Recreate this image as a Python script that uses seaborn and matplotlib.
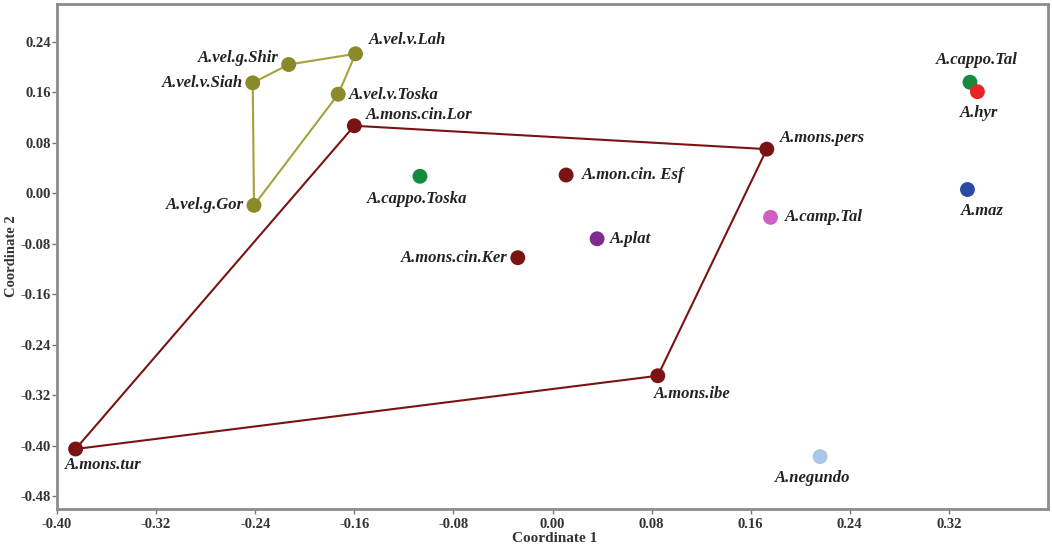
import matplotlib
matplotlib.use("Agg")
import matplotlib.pyplot as plt
import seaborn as sns
import pandas as pd

# PCoA coordinates of the Acer accessions
names = ["A.vel.v.Lah", "A.vel.g.Shir", "A.vel.v.Siah", "A.vel.v.Toska", "A.vel.g.Gor",
         "A.mons.cin.Lor", "A.mons.pers", "A.mons.ibe", "A.mons.tur",
         "A.cappo.Toska", "A.mon.cin. Esf", "A.plat", "A.mons.cin.Ker",
         "A.camp.Tal", "A.cappo.Tal", "A.hyr", "A.maz", "A.negundo"]
coord1 = [-0.159, -0.213, -0.242, -0.173, -0.241,
          -0.160, 0.173, 0.085, -0.385,
          -0.107, 0.011, 0.036, -0.028,
          0.176, 0.337, 0.343, 0.335, 0.216]
coord2 = [0.221, 0.204, 0.175, 0.157, -0.019,
          0.107, 0.070, -0.289, -0.405,
          0.027, 0.029, -0.072, -0.102,
          -0.038, 0.176, 0.161, 0.006, -0.417]
group = ["vel", "vel", "vel", "vel", "vel",
         "mons", "mons", "mons", "mons",
         "cappo", "mons", "plat", "mons",
         "camp", "cappo", "hyr", "maz", "negundo"]

# convex hull outlines (closed) for the two clustered groups
hull_vel = ["A.vel.v.Siah", "A.vel.g.Shir", "A.vel.v.Lah", "A.vel.v.Toska", "A.vel.g.Gor", "A.vel.v.Siah"]
hull_mons = ["A.mons.cin.Lor", "A.mons.pers", "A.mons.ibe", "A.mons.tur", "A.mons.cin.Lor"]

palette = {"vel": "#8a8a2a", "mons": "#7a1414", "cappo": "#178a3e", "plat": "#7d2b8c",
           "camp": "#cf5fc0", "hyr": "#e82424", "maz": "#2b4aa6", "negundo": "#a9c8e8"}

# label placement: (dx, dy) in pixels, horizontal alignment
label_pos = {
    "A.vel.v.Lah": (13, 14, "left"), "A.vel.g.Shir": (-10, 7, "right"),
    "A.vel.v.Siah": (-10, 0, "right"), "A.vel.v.Toska": (11, -1, "left"),
    "A.vel.g.Gor": (-10, 0, "right"), "A.mons.cin.Lor": (12, 11, "left"),
    "A.mons.pers": (13, 11, "left"), "A.mons.ibe": (34, -18, "center"),
    "A.mons.tur": (28, -16, "center"), "A.cappo.Toska": (-3, -23, "center"),
    "A.mon.cin. Esf": (16, 0, "left"), "A.plat": (13, 0, "left"),
    "A.mons.cin.Ker": (-10, 0, "right"), "A.camp.Tal": (14, 0, "left"),
    "A.cappo.Tal": (7, 22, "center"), "A.hyr": (2, -21, "center"),
    "A.maz": (15, -21, "center"), "A.negundo": (-7, -21, "center"),
}

df = pd.DataFrame({"name": names, "Coordinate 1": coord1, "Coordinate 2": coord2, "group": group})
idx = df.set_index("name")

sns.set_style("white")
plt.rcParams["font.family"] = ["Liberation Serif", "DejaVu Serif"]

fig = plt.figure(figsize=(10.52, 5.46), dpi=100)
ax = fig.add_axes([0.0542, 0.0678, 0.942, 0.925])

for hull, col in [(hull_vel, "#a3a33c"), (hull_mons, "#7a1414")]:
    ax.plot(idx.loc[hull, "Coordinate 1"], idx.loc[hull, "Coordinate 2"],
            color=col, lw=1.5, zorder=2)

sns.scatterplot(data=df, x="Coordinate 1", y="Coordinate 2", hue="group",
                palette=palette, s=115, edgecolor="none", legend=False, ax=ax, zorder=3)

for n, x, y in zip(names, coord1, coord2):
    dx, dy, ha = label_pos[n]
    ax.annotate(n, (x, y), xytext=(dx, dy), textcoords="offset pixels",
                ha=ha, va="center", fontsize=12, fontweight="bold", fontstyle="italic",
                color="#222222", zorder=4)

ax.set_xlim(-0.40, 0.40)
ax.set_ylim(-0.50, 0.30)
xt = [-0.40, -0.32, -0.24, -0.16, -0.08, 0.00, 0.08, 0.16, 0.24, 0.32]
yt = [0.24, 0.16, 0.08, 0.00, -0.08, -0.16, -0.24, -0.32, -0.40, -0.48]
ax.set_xticks(xt)
ax.set_xticklabels([f"{v:.2f}" for v in xt])
ax.set_yticks(yt)
ax.set_yticklabels([f"{v:.2f}" for v in yt])
ax.tick_params(axis="both", direction="out", length=3.6, width=1, color="#777777",
               labelsize=10.5, labelcolor="#333333", bottom=True, left=True)
ax.tick_params(axis="x", pad=3)
ax.tick_params(axis="y", pad=0.8)
for lab in ax.get_xticklabels() + ax.get_yticklabels():
    lab.set_fontweight("bold")
ax.set_xlabel("Coordinate 1", fontsize=11, fontweight="bold", color="#333333")
ax.set_ylabel("Coordinate 2", fontsize=10.5, fontweight="bold", color="#333333")
ax.xaxis.set_label_coords(0.502, -0.046)
ax.yaxis.set_label_coords(-0.039, 0.5)
for sp in ax.spines.values():
    sp.set_color("#8c8c8c")
    sp.set_linewidth(2)

fig.savefig("out.png", dpi=100)
